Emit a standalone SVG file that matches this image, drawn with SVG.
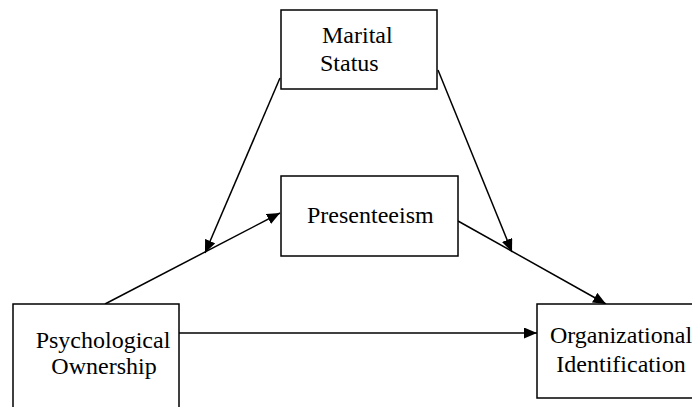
<svg xmlns="http://www.w3.org/2000/svg" width="692" height="407" viewBox="0 0 692 407">
<style>
.box{fill:#fff;stroke:#000;stroke-width:1.5}
.lbl{font-family:"Liberation Serif","Times New Roman",serif;font-size:24px;fill:#000}
.c{stroke:#000;stroke-width:1.5;fill:none;marker-end:url(#ah)}
</style>
<defs>
<marker id="ah" markerUnits="userSpaceOnUse" markerWidth="13" markerHeight="11" refX="13" refY="5.5" orient="auto">
<path d="M0,0 L13,5.5 L0,11 z" fill="#000"/>
</marker>
</defs>
<rect width="692" height="407" fill="#fff"/>
<g id="connectors">
<line class="c" x1="105" y1="304" x2="280" y2="213"/>
<line class="c" x1="280" y1="78" x2="205" y2="253"/>
<line class="c" x1="458" y1="221" x2="606" y2="304"/>
<line class="c" x1="438" y1="70" x2="512" y2="252"/>
<line class="c" x1="179" y1="333" x2="537" y2="333"/>
</g>
<g id="marital">
<rect class="box" x="281" y="10" width="156" height="79"/>
<text class="lbl" x="322" y="43">Marital</text>
<text class="lbl" x="320" y="71">Status</text>
</g>
<g id="presenteeism">
<rect class="box" x="281" y="176" width="177" height="80"/>
<text class="lbl" x="307" y="223">Presenteeism</text>
</g>
<g id="psych">
<rect class="box" x="13" y="304" width="166" height="120"/>
<text class="lbl" x="103" y="348" text-anchor="middle">Psychological</text>
<text class="lbl" x="104" y="374" text-anchor="middle">Ownership</text>
</g>
<g id="orgid">
<rect class="box" x="537" y="304" width="170" height="94"/>
<text class="lbl" x="621" y="343" text-anchor="middle">Organizational</text>
<text class="lbl" x="621" y="372" text-anchor="middle">Identification</text>
</g>
</svg>
